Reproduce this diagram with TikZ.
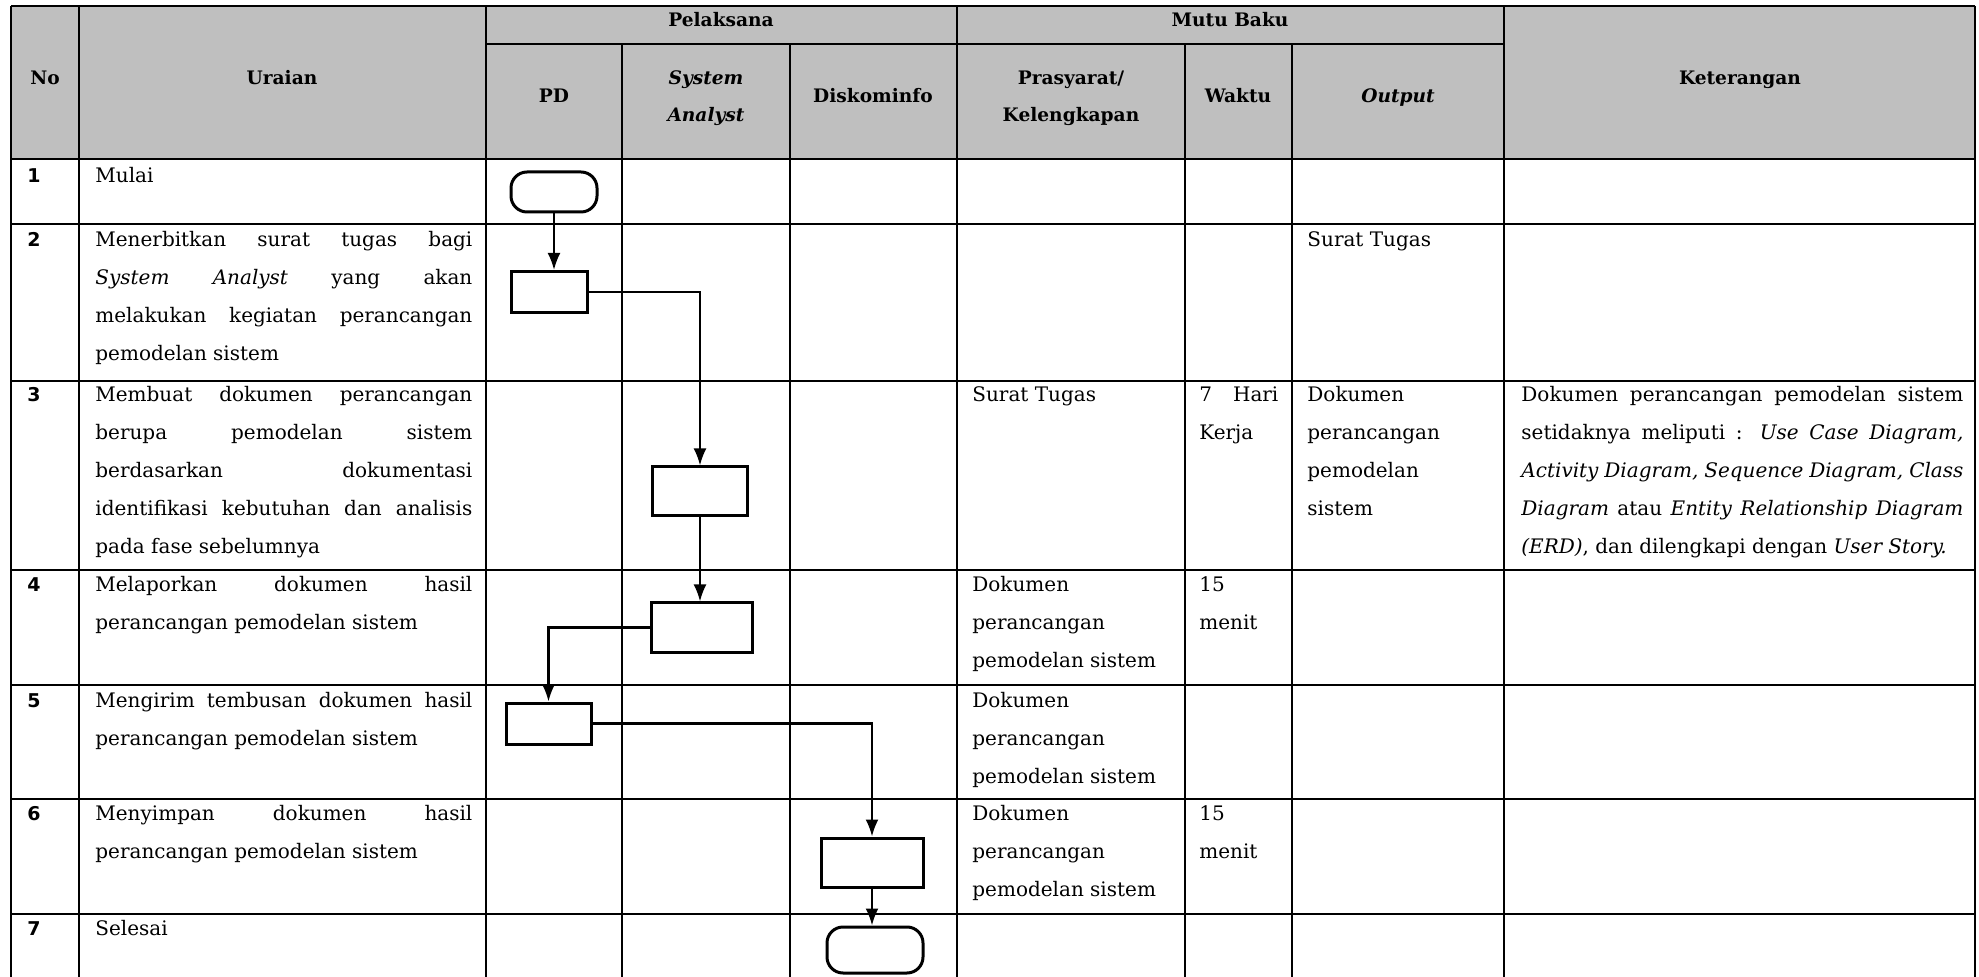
\documentclass[tikz,border=0pt]{standalone}
\usepackage{fontspec}
\setmainfont{DejaVu Serif}
\newfontfamily\nofont{DejaVu Sans}
\usetikzlibrary{arrows.meta}
\definecolor{hdrgray}{RGB}{191,191,191}
\newcommand{\jl}[1]{\makebox[\linewidth][s]{#1}\\}

\begin{document}
\begin{tikzpicture}[x=0.5pt,y=-0.5pt,
  hdr/.style={anchor=base,inner sep=0pt,font=\fontsize{9.3}{18.5}\selectfont\bfseries},
  cell/.style={anchor=base west,inner sep=0pt,font=\fontsize{10}{19}\selectfont},
  num/.style={anchor=base west,inner sep=0pt,font=\nofont\bfseries\fontsize{9.5}{10}\selectfont},
  grid/.style={line width=0.85pt},
  rowline/.style={line width=1.2pt},
  thinline/.style={line width=0.6pt},
  proc/.style={draw,line width=1.5pt,inner sep=0pt},
  term/.style={proc,rounded corners=8pt},
  flow/.style={line width=1.1pt,-{Latex[length=8.5pt,width=6.5pt]}}]
  \useasboundingbox (0,0) rectangle (1979,977);
  % table head
  \fill[hdrgray] (11,6) rectangle (1975,159);
  \draw[thinline] (11,6) -- (1975,6);
  \draw[thinline] (486,44) -- (1504,44);
  \begin{scope}[rowline]
    \draw (11,159) -- (1975,159);
    \draw (11,224) -- (1975,224);
    \draw (11,381) -- (1975,381);
    \draw (11,570) -- (1975,570);
    \draw (11,685) -- (1975,685);
    \draw (11,799) -- (1975,799);
    \draw (11,914) -- (1975,914);
  \end{scope}
  \begin{scope}[grid]
    \draw (11,6) -- (11,977);
    \draw (79,6) -- (79,977);
    \draw (486,6) -- (486,977);
    \draw (622,44) -- (622,977);
    \draw (790,44) -- (790,977);
    \draw (957,6) -- (957,977);
    \draw (1185,44) -- (1185,977);
    \draw (1292,44) -- (1292,977);
    \draw (1504,6) -- (1504,977);
    \draw (1975,6) -- (1975,977);
  \end{scope}

  \begin{scope}[hdr]
  \path (45,85) node (hno) {No};
  \path (282,85) node (hur) {Uraian};
  \path (721,27) node (hpel) {Pelaksana};
  \path (1230,27) node (hmutu) {Mutu Baku};
  \path (1740,85) node (hket) {Keterangan};
  \path (554,103) node (hpd) {PD};
  \path (706,85) node (hsa) {\parbox[t]{70pt}{\centering\itshape System\\Analyst}};
  \path (873,103) node (hdis) {Diskominfo};
  \path (1071,85) node (hpra) {\parbox[t]{100pt}{\centering Prasyarat/\\Kelengkapan}};
  \path (1238,103) node (hwak) {Waktu};
  \path (1398,103) node (hout) {\itshape Output};
  \end{scope}

  % nomor
  \path (27,183) node[num] (n1) {1};
  \path (27,247) node[num] (n2) {2};
  \path (27,402) node[num] (n3) {3};
  \path (27,592) node[num] (n4) {4};
  \path (27,707) node[num] (n5) {5};
  \path (27,820) node[num] (n6) {6};
  \path (27,935) node[num] (n7) {7};

  % uraian
  \path (95,183) node[cell] (u1) {Mulai};
  \path (95,247) node[cell] (u2) {\parbox[t]{188.5pt}{\jl{Menerbitkan surat tugas bagi}
    \jl{\textit{System Analyst} yang akan}
    \jl{melakukan kegiatan perancangan}
    pemodelan sistem}};
  \path (95,402) node[cell] (u3) {\parbox[t]{188.5pt}{\jl{Membuat dokumen perancangan}
    \jl{berupa pemodelan sistem}
    \jl{berdasarkan dokumentasi}
    \jl{identifikasi kebutuhan dan analisis}
    pada fase sebelumnya}};
  \path (95,592) node[cell] (u4) {\parbox[t]{188.5pt}{\jl{Melaporkan dokumen hasil}
    perancangan pemodelan sistem}};
  \path (95,707) node[cell] (u5) {\parbox[t]{188.5pt}{\jl{Mengirim tembusan dokumen hasil}
    perancangan pemodelan sistem}};
  \path (95,820) node[cell] (u6) {\parbox[t]{188.5pt}{\jl{Menyimpan dokumen hasil}
    perancangan pemodelan sistem}};
  \path (95,935) node[cell] (u7) {Selesai};

  % mutu baku
  \path (1307,247) node[cell] (o2) {Surat Tugas};
  \path (972,402) node[cell] (p3) {Surat Tugas};
  \path (1199,402) node[cell] (w3) {\parbox[t]{39.5pt}{\jl{7 Hari}Kerja}};
  \path (1307,402) node[cell] (o3) {\parbox[t]{95pt}{Dokumen\\perancangan\\pemodelan\\sistem}};
  \path (972,592) node[cell] (p4) {\parbox[t]{100pt}{Dokumen\\perancangan\\pemodelan sistem}};
  \path (1199,592) node[cell] (w4) {\parbox[t]{40pt}{15\\menit}};
  \path (972,707) node[cell] (p5) {\parbox[t]{100pt}{Dokumen\\perancangan\\pemodelan sistem}};
  \path (972,820) node[cell] (p6) {\parbox[t]{100pt}{Dokumen\\perancangan\\pemodelan sistem}};
  \path (1199,820) node[cell] (w6) {\parbox[t]{40pt}{15\\menit}};

  % keterangan
  \path (1521,402) node[cell] (k3) {\parbox[t]{221pt}{\jl{Dokumen perancangan pemodelan sistem}
    \jl{setidaknya meliputi : \textit{Use Case Diagram,}}
    \jl{\textit{Activity Diagram, Sequence Diagram, Class}}
    \jl{\textit{Diagram} atau \textit{Entity Relationship Diagram}}
    \textit{(ERD)}, dan dilengkapi dengan \textit{User Story.}}};

  % alur
  \path (554,192) node[term,minimum width=43pt,minimum height=20pt] (mulai) {};
  \path (549,292) node[proc,minimum width=38pt,minimum height=20.5pt] (surat) {};
  \path (700,491.5) node[proc,minimum width=47.5pt,minimum height=24.5pt] (buat) {};
  \path (702,627.5) node[proc,minimum width=50.5pt,minimum height=24.5pt] (lapor) {};
  \path (548.5,723.5) node[proc,minimum width=42.5pt,minimum height=20.5pt] (kirim) {};
  \path (872,862.5) node[proc,minimum width=51pt,minimum height=24.5pt] (simpan) {};
  \path (875,950) node[term,minimum width=48pt,minimum height=23pt] (selesai) {};
  \begin{scope}[flow]
    \draw (mulai.south) -- (mulai.south |- surat.north);
    \draw (surat.east) -| (buat.north);
    \draw (buat.south) -- (buat.south |- lapor.north);
    \draw (lapor.west) -| (kirim.north);
    \draw (kirim.east) -| (simpan.north);
    \draw (simpan.south) -- (simpan.south |- selesai.north);
  \end{scope}
\end{tikzpicture}
\end{document}
